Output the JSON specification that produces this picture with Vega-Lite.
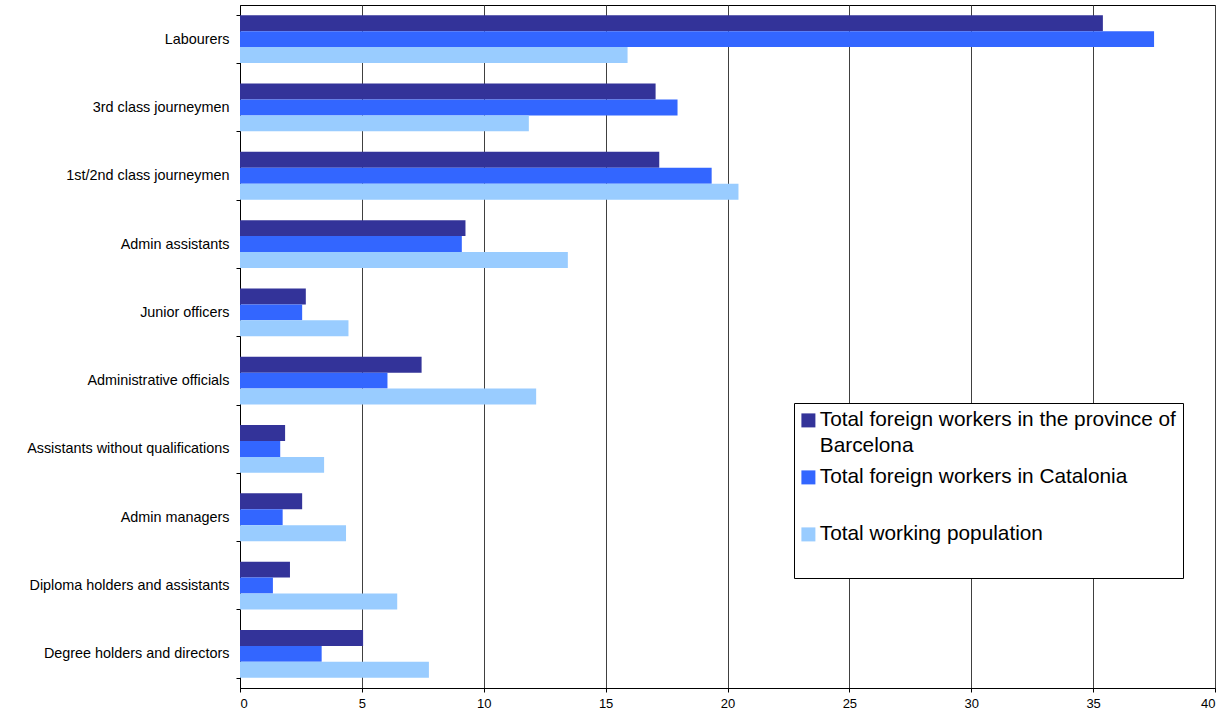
{
  "$schema": "https://vega.github.io/schema/vega-lite/v6.json",
  "width": 975,
  "height": 683,
  "autosize": {"type": "none"},
  "padding": {"left": 240, "top": 5, "right": 11, "bottom": 33},
  "background": "#ffffff",
  "config": {
    "font": "Liberation Sans",
    "view": {"stroke": "#000000", "strokeWidth": 1}
  },
  "data": {
    "values": [
      {"category": "Labourers", "series": "Total foreign workers in the province of Barcelona", "value": 35.4},
      {"category": "Labourers", "series": "Total foreign workers in Catalonia", "value": 37.5},
      {"category": "Labourers", "series": "Total working population", "value": 15.9},
      {"category": "3rd class journeymen", "series": "Total foreign workers in the province of Barcelona", "value": 17.05},
      {"category": "3rd class journeymen", "series": "Total foreign workers in Catalonia", "value": 17.95},
      {"category": "3rd class journeymen", "series": "Total working population", "value": 11.85},
      {"category": "1st/2nd class journeymen", "series": "Total foreign workers in the province of Barcelona", "value": 17.2},
      {"category": "1st/2nd class journeymen", "series": "Total foreign workers in Catalonia", "value": 19.35},
      {"category": "1st/2nd class journeymen", "series": "Total working population", "value": 20.45},
      {"category": "Admin assistants", "series": "Total foreign workers in the province of Barcelona", "value": 9.25},
      {"category": "Admin assistants", "series": "Total foreign workers in Catalonia", "value": 9.1},
      {"category": "Admin assistants", "series": "Total working population", "value": 13.45},
      {"category": "Junior officers", "series": "Total foreign workers in the province of Barcelona", "value": 2.7},
      {"category": "Junior officers", "series": "Total foreign workers in Catalonia", "value": 2.55},
      {"category": "Junior officers", "series": "Total working population", "value": 4.45},
      {"category": "Administrative officials", "series": "Total foreign workers in the province of Barcelona", "value": 7.45},
      {"category": "Administrative officials", "series": "Total foreign workers in Catalonia", "value": 6.05},
      {"category": "Administrative officials", "series": "Total working population", "value": 12.15},
      {"category": "Assistants without qualifications", "series": "Total foreign workers in the province of Barcelona", "value": 1.85},
      {"category": "Assistants without qualifications", "series": "Total foreign workers in Catalonia", "value": 1.65},
      {"category": "Assistants without qualifications", "series": "Total working population", "value": 3.45},
      {"category": "Admin managers", "series": "Total foreign workers in the province of Barcelona", "value": 2.55},
      {"category": "Admin managers", "series": "Total foreign workers in Catalonia", "value": 1.75},
      {"category": "Admin managers", "series": "Total working population", "value": 4.35},
      {"category": "Diploma holders and assistants", "series": "Total foreign workers in the province of Barcelona", "value": 2.05},
      {"category": "Diploma holders and assistants", "series": "Total foreign workers in Catalonia", "value": 1.35},
      {"category": "Diploma holders and assistants", "series": "Total working population", "value": 6.45},
      {"category": "Degree holders and directors", "series": "Total foreign workers in the province of Barcelona", "value": 5.05},
      {"category": "Degree holders and directors", "series": "Total foreign workers in Catalonia", "value": 3.35},
      {"category": "Degree holders and directors", "series": "Total working population", "value": 7.75}
    ]
  },
  "mark": {"type": "bar"},
  "encoding": {
    "y": {
      "field": "category",
      "type": "nominal",
      "sort": ["Labourers", "3rd class journeymen", "1st/2nd class journeymen", "Admin assistants", "Junior officers", "Administrative officials", "Assistants without qualifications", "Admin managers", "Diploma holders and assistants", "Degree holders and directors"],
      "scale": {"paddingInner": 0.3, "paddingOuter": 0.15},
      "axis": {
        "title": null,
        "tickBand": "extent",
        "ticks": true,
        "tickSize": 4,
        "tickColor": "#000000",
        "domainColor": "#000000",
        "grid": false,
        "labelFont": "Liberation Sans",
        "labelFontSize": 14.4,
        "labelColor": "#000000",
        "labelPadding": 7,
        "labelLimit": 300
      }
    },
    "yOffset": {
      "field": "series",
      "type": "nominal",
      "sort": ["Total foreign workers in the province of Barcelona", "Total foreign workers in Catalonia", "Total working population"],
      "scale": {"paddingInner": 0, "paddingOuter": 0}
    },
    "x": {
      "field": "value",
      "type": "quantitative",
      "scale": {"domain": [0, 40], "nice": false},
      "axis": {
        "title": null,
        "values": [0, 5, 10, 15, 20, 25, 30, 35, 40],
        "grid": true,
        "gridColor": "#404040",
        "gridOpacity": 1,
        "gridWidth": 1,
        "tickSize": 4,
        "tickColor": "#000000",
        "domainColor": "#000000",
        "labelFont": "Liberation Sans",
        "labelFontSize": 13,
        "labelColor": "#000000",
        "labelPadding": 5
      }
    },
    "color": {
      "field": "series",
      "type": "nominal",
      "sort": ["Total foreign workers in the province of Barcelona", "Total foreign workers in Catalonia", "Total working population"],
      "scale": {
        "domain": ["Total foreign workers in the province of Barcelona", "Total foreign workers in Catalonia", "Total working population"],
        "range": ["#333399", "#3366ff", "#99ccff"]
      },
      "legend": {
        "title": null,
        "orient": "none",
        "legendX": 554,
        "legendY": 398,
        "direction": "vertical",
        "padding": 7,
        "strokeColor": "#000000",
        "fillColor": "#ffffff",
        "cornerRadius": 0,
        "symbolType": "square",
        "symbolSize": 196,
        "symbolStrokeWidth": 0,
        "symbolOpacity": 1,
        "symbolOffset": -3,
        "labelFont": "Liberation Sans",
        "labelFontSize": 20.8,
        "labelColor": "#000000",
        "labelOffset": 1,
        "labelLimit": 400,
        "rowPadding": 9,
        "labelExpr": "datum.label == 'Total foreign workers in the province of Barcelona' ? ['Total foreign workers in the province of', 'Barcelona'] : [datum.label, '']",
        "encode": {
          "labels": {"update": {"lineHeight": {"value": 26}}}
        }
      }
    }
  }
}
